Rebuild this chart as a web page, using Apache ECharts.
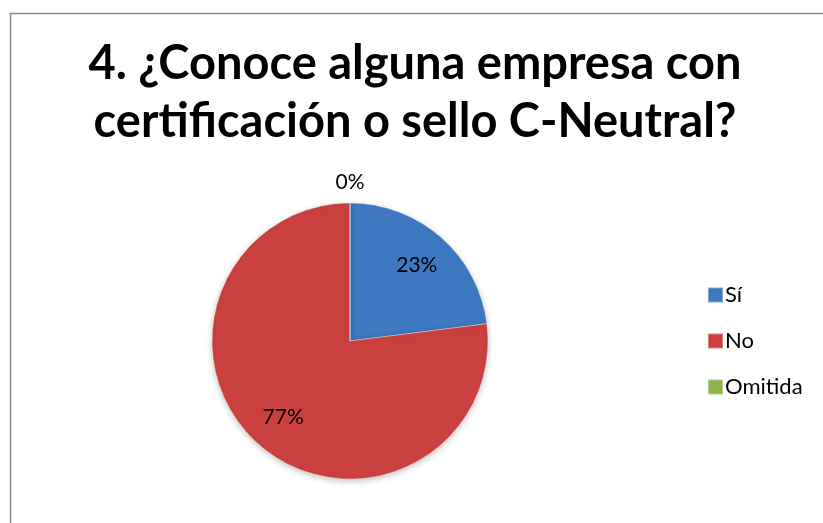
<!DOCTYPE html>
<html>
<head>
<meta charset="utf-8">
<script src="https://cdn.jsdelivr.net/npm/echarts@6/dist/echarts.min.js"></script>
<style>
  html, body { margin: 0; padding: 0; background: #fff; }
  #chart { width: 823px; height: 523px; }
</style>
</head>
<body>
<div id="chart"></div>
<script>
// datos de la encuesta (porcentajes)
var categorias = ['Sí', 'No', 'Omitida'];
var valores = [23, 77, 0];
var colores = ['#3e78c0', '#c9403e', '#8fb34a'];

var chart = echarts.init(document.getElementById('chart'));

var datosPie = categorias.map(function (c, i) {
    return { name: c, value: valores[i], itemStyle: { color: colores[i] } };
});
// series transparentes solo para colocar las etiquetas como en Excel
var datosEtiquetas = categorias.map(function (c, i) {
    return { name: c, value: valores[i], label: { show: valores[i] > 0 } };
});
var datosCero = categorias.map(function (c, i) {
    return { name: c, value: valores[i], label: { show: valores[i] === 0 } };
});

var etiqueta = {
    show: true,
    position: 'inside',
    formatter: '{c}%',
    fontFamily: 'Lato',
    fontSize: 21,
    color: '#000'
};

var option = {
    animation: false,
    title: {
        text: '4. ¿Conoce alguna empresa con\ncertificación o sello C-Neutral?',
        left: 410,
        top: 30,
        textAlign: 'center',
        textStyle: {
            fontFamily: 'Lato',
            fontWeight: 'bold',
            fontSize: 47,
            lineHeight: 58,
            color: '#000'
        }
    },
    legend: {
        orient: 'vertical',
        left: 702,
        top: 279,
        itemGap: 24,
        itemWidth: 15,
        itemHeight: 15,
        icon: 'rect',
        selectedMode: false,
        textStyle: { fontFamily: 'Lato', fontSize: 22, color: '#000', padding: [0, 0, 0, -3] },
        data: categorias
    },
    graphic: [{
        type: 'rect',
        shape: { x: 10.5, y: 13.5, width: 900, height: 600 },
        style: { fill: 'none', stroke: '#8c8c8c', lineWidth: 1.5 },
        silent: true
    }],
    series: [
        {
            type: 'pie',
            center: [350, 341],
            radius: 138,
            startAngle: 90,
            clockwise: true,
            label: { show: false },
            labelLine: { show: false },
            itemStyle: {
                borderColor: 'rgba(255,255,255,0.35)',
                borderWidth: 1,
                shadowBlur: 6,
                shadowColor: 'rgba(0,0,0,0.25)',
                shadowOffsetY: 2
            },
            data: datosPie
        },
        {
            type: 'pie',
            center: [350, 341],
            radius: [58, 138],
            startAngle: 90,
            clockwise: true,
            silent: true,
            itemStyle: { color: 'rgba(0,0,0,0)' },
            label: etiqueta,
            labelLine: { show: false },
            data: datosEtiquetas
        },
        {
            type: 'pie',
            center: [350, 341],
            radius: [143, 169],
            startAngle: 90,
            clockwise: true,
            silent: true,
            itemStyle: { color: 'rgba(0,0,0,0)' },
            label: etiqueta,
            labelLine: { show: false },
            data: datosCero
        }
    ]
};

chart.setOption(option);
</script>
</body>
</html>
